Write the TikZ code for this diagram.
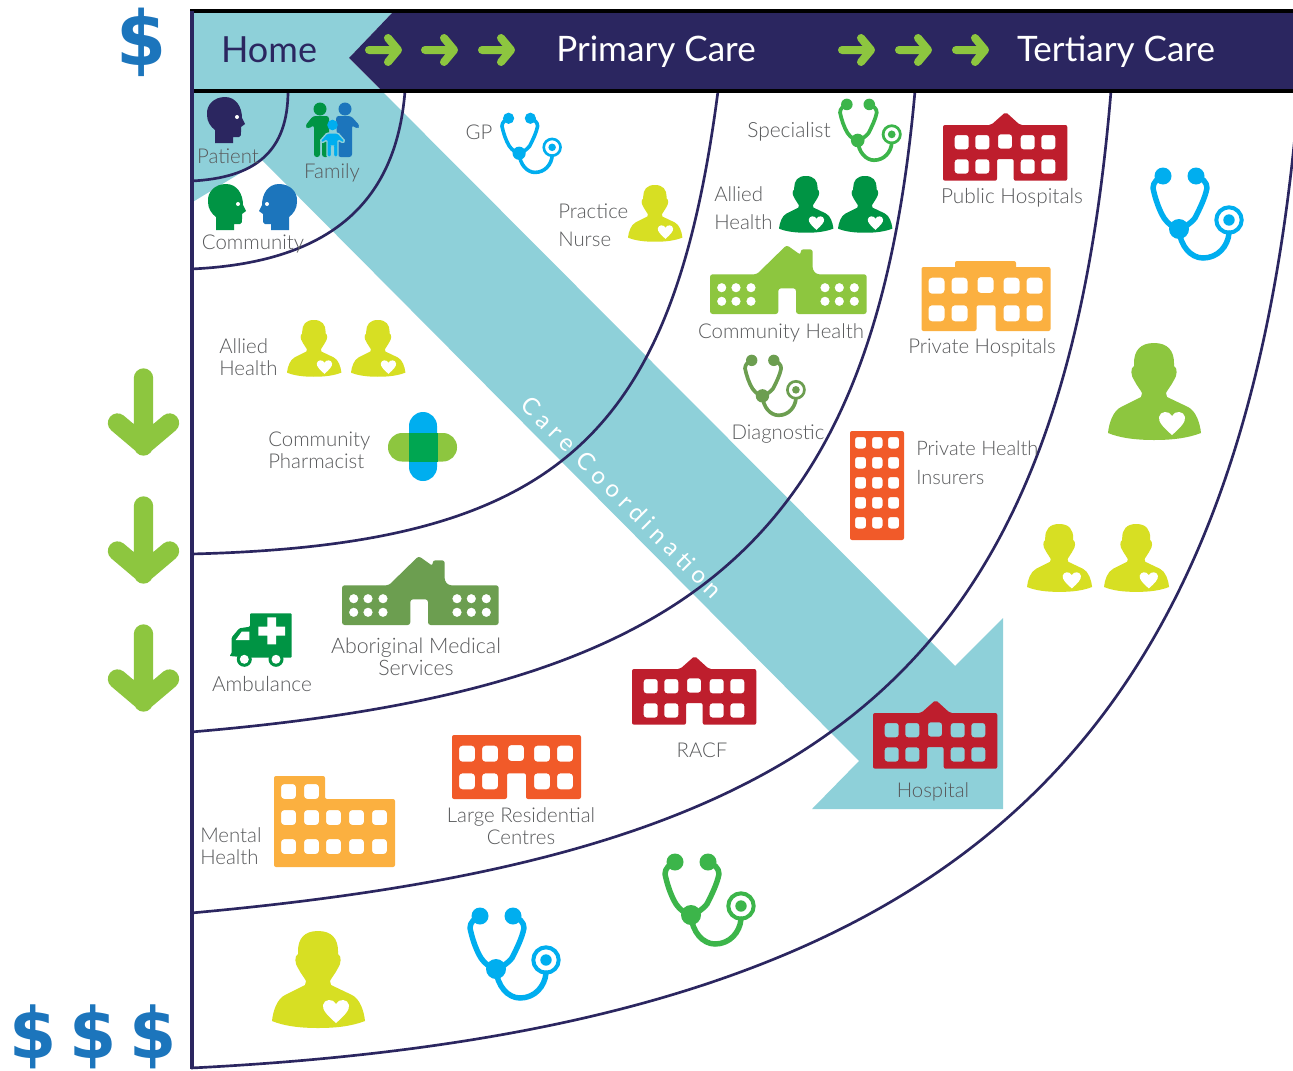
\documentclass[tikz,border=0pt]{standalone}
\usepackage{fontspec}
\usepackage{graphicx}
\setmainfont{Lato Light}
\newfontfamily\hdfont{Lato}
\newfontfamily\dollarfont{DejaVu Sans}[BoldFont=* Bold]
\newfontfamily\carefont[LetterSpace=24]{Lato}
\definecolor{navy}{HTML}{2B2660}
\definecolor{teal}{HTML}{8ED0D9}
\definecolor{lime}{HTML}{8DC63F}
\definecolor{yel}{HTML}{D7DF23}
\definecolor{dgreen}{HTML}{009444}
\definecolor{mgreen}{HTML}{3CB54A}
\definecolor{olive}{HTML}{6C9E50}
\definecolor{cyanb}{HTML}{00AEEF}
\definecolor{blueb}{HTML}{1C75BC}
\definecolor{redb}{HTML}{BE1E2D}
\definecolor{orangeb}{HTML}{FBB040}
\definecolor{orred}{HTML}{F15A29}
\definecolor{txt}{HTML}{58595B}
\definecolor{crossg}{HTML}{00A651}
\tikzset{
  arcline/.style={draw=navy,line width=2pt},
  lab/.style={text=txt,font=\fontsize{15.3}{16.5}\selectfont,inner sep=0pt,align=center},
  labl/.style={lab,align=left,anchor=west},
  hd/.style={inner sep=0pt,font=\hdfont\fontsize{26.3}{28}\selectfont},
  dollar/.style={inner sep=0pt,text=blueb,font=\dollarfont\bfseries\fontsize{54}{60}\selectfont},
  dollarb/.style={dollar,font=\dollarfont\bfseries\fontsize{51}{60}\selectfont},
  harrow/.style={draw=lime,line width=6pt,line cap=round,line join=round},
  varrow/.style={draw=lime,line width=14.5pt,line cap=round,line join=round}
}
\newcommand{\steth}[4]{%
\begin{scope}[shift={(#1,#2)},scale=#3]
 \draw[#4,line width=4.1pt*#3,line cap=round,line join=round]
   (13,8) .. controls (8,10) and (3,14) .. (3,20) .. controls (5,30) and (9,42) .. (14,50) .. controls (19,57) and (24,60) .. (29,61)
   .. controls (34,60) and (40,56) .. (45,50) .. controls (50,40) and (55,30) .. (57,20) .. controls (57,14) and (52,10) .. (46,8);
 \draw[#4,line width=4.1pt*#3,line cap=round]
   (29,61) .. controls (30,78) and (41,90) .. (53,90) .. controls (68,90) and (78,78) .. (79,65);
 \fill[#4] (13,8) circle[radius=8.5] (46,8) circle[radius=8.5] (29,61) circle[radius=10] (79,52) circle[radius=5.7];
 \draw[#4,line width=3pt*#3] (79,52) circle[radius=12.7];
\end{scope}}
\newcommand{\person}[4]{%
\begin{scope}[shift={(#1,#2)},scale=#3]
 \fill[#4] (46,0) .. controls (60,0) and (66,8) .. (66,20) -- (66,23) .. controls (70,25) and (69,33) .. (66,37)
   .. controls (63,43) and (60,46) .. (58,50) -- (59,54) -- (80,64) .. controls (88,68) and (92,80) .. (93,90)
   .. controls (80,95) and (65,97) .. (46,97) .. controls (28,97) and (12,95) .. (0,90)
   .. controls (1,80) and (5,68) .. (13,64) -- (33,54) -- (34,50) .. controls (32,46) and (29,43) .. (26,37)
   .. controls (23,33) and (22,25) .. (26,23) -- (26,20) .. controls (26,8) and (32,0) .. (46,0) -- cycle;
 \fill[white] (64,92) .. controls (56,85) and (50,79) .. (51,74) .. controls (52,68) and (61,67) .. (64,73)
   .. controls (67,67) and (76,68) .. (77,74) .. controls (78,79) and (72,85) .. (64,92) -- cycle;
\end{scope}}
\newcommand{\headicon}[3]{% x y colour; faces right
 \fill[#3] (19,0) .. controls (8,0) and (0,8) .. (1,18) .. controls (1,25) and (5,30) .. (9,33) -- (9,46) -- (27,46) -- (27,40)
   -- (33,40) .. controls (35,40) and (35,37) .. (35,35) -- (35,30) -- (39,27) -- (36,21) .. controls (36,10) and (30,0) .. (19,0) -- cycle;
 \fill[white] (31,20) circle[radius=2];}
\newcommand{\hosp}[3]{%
\begin{scope}[shift={(#1,#2)}]
 \fill[#3,even odd rule,rounded corners=1.5pt] (0,68.7) -- (0,13) -- (48,13) -- (62.7,0) -- (77,13) -- (124.3,13) -- (124.3,68.7)
   -- (70.7,68.7) -- (70.7,47) -- (54,47) -- (54,68.7) -- cycle
   [rounded corners=2pt] (11.7,23) rectangle ++(14,14.3) (32.3,23) rectangle ++(14,14.3) (55,22.3) rectangle ++(14,14.3)
   (77.7,23) rectangle ++(14,14.3) (98.3,23) rectangle ++(14,14.3)
   (11.7,47.3) rectangle ++(14,14.3) (32.3,47.3) rectangle ++(14,14.3) (77.7,47.3) rectangle ++(14,14.3) (98.3,47.3) rectangle ++(14,14.3);
\end{scope}}
\newcommand{\wide}[3]{%
\begin{scope}[shift={(#1,#2)}]
 \fill[#3,even odd rule,rounded corners=1.5pt] (0,70) -- (0,6) -- (129,6) -- (129,70) -- (74,70) -- (74,44.3) -- (55,44.3) -- (55,70) -- cycle
   [rounded corners=2.5pt] (7,16.7) rectangle ++(16,16) (30,16.7) rectangle ++(16,16) (56,16) rectangle ++(16,16)
   (82,16.7) rectangle ++(16,16) (105,16.7) rectangle ++(16,16)
   (7,44.3) rectangle ++(16,16) (30,44.3) rectangle ++(16,16) (82,44.3) rectangle ++(16,16) (105,44.3) rectangle ++(16,16);
\end{scope}}
\newcommand{\school}[3]{%
\begin{scope}[shift={(#1,#2)}]
 \fill[#3,even odd rule,rounded corners=2pt] (0,69) -- (0,29.3) -- (46.7,29.3) -- (76.7,0) -- (90.7,10) -- (90.7,4.3) -- (102.7,4.3) -- (102.7,25) -- (106.7,29.3)
   -- (156.7,29.3) -- (156.7,69) -- (86,69) -- (86,43.3) -- (68.3,43.3) -- (68.3,69) -- cycle
   (11.7,42.7) circle[radius=4.7] (26,42.7) circle[radius=4.7] (41,42.7) circle[radius=4.7]
   (115,42.7) circle[radius=4.7] (129.3,42.7) circle[radius=4.7] (144.3,42.7) circle[radius=4.7]
   (11.7,56.3) circle[radius=4.7] (26,56.3) circle[radius=4.7] (41,56.3) circle[radius=4.7]
   (115,56.3) circle[radius=4.7] (129.3,56.3) circle[radius=4.7] (144.3,56.3) circle[radius=4.7];
\end{scope}}
\newcommand{\harr}[1]{%
 \draw[harrow] (#1+4,50) -- (#1+33,50) (#1+23,38) -- (#1+33,50) -- (#1+23,62);}
\newcommand{\varr}[1]{%
 \draw[varrow] (143.5,#1+10) -- (143.5,#1+78) (117.5,#1+55) -- (143.5,#1+77) -- (169.5,#1+55);}
\begin{document}
\begin{tikzpicture}[x=0.75pt,y=-0.75pt]
\useasboundingbox (0,0) rectangle (1293,1071);
\fill[white] (0,0) rectangle (1293,1071);
% care coordination band
\fill[teal] (191,12) -- (393,12) -- (349,58) -- (955,666) -- (1003,618) -- (1003,809) -- (812,809) -- (859,761) -- (262,160) -- (191,203) -- cycle;
% header
\fill[navy] (393,12) -- (1293,12) -- (1293,90) -- (381,90) -- (349,58) -- cycle;
% curves
\draw[arcline] (191,181) .. controls (256,178) and (288,151) .. (288,91);
\draw[arcline] (191,269) .. controls (326,263) and (396,206) .. (405,91);
\draw[arcline] (191,554) .. controls (561,545) and (673,436) .. (718,91);
\draw[arcline] (191,732) .. controls (687,690) and (874,551) .. (915,91);
\draw[arcline] (191,913) .. controls (821,856) and (1062,681) .. (1111,91);
\begin{scope}
\clip (0,0) rectangle (1293,1071);
\draw[arcline] (191,1068) .. controls (950,1030) and (1245,760) .. (1299,91);
\end{scope}
% frame
\draw[black,line width=2.8pt] (190,11) -- (1293,11);
\draw[black,line width=3pt] (192,91.3) -- (1293,91.3);
\draw[navy,line width=3pt] (192,11) -- (192,1069);
% header arrows
\harr{365}\harr{421}\harr{478}\harr{838}\harr{895}\harr{952}
\varr{368}\varr{496}\varr{624}
% head icons
\begin{scope}[shift={(206,97)}]\headicon{0}{0}{navy}\end{scope}
\begin{scope}[shift={(207,184)}]\headicon{0}{0}{dgreen}\end{scope}
\begin{scope}[shift={(298,184)},xscale=-1]\headicon{0}{0}{blueb}\end{scope}
% family
\fill[blueb] (345,109) circle[radius=6.5];
\fill[blueb,rounded corners=2pt] (336,116) -- (351,116) -- (360,126) -- (357,129) -- (352,125) -- (352,157) -- (338,157) -- cycle;
\fill[dgreen] (320,109) circle[radius=6.5];
\fill[dgreen,rounded corners=2pt] (313,116) -- (329,116) -- (329,157) -- (322,157) -- (322,140) -- (320,140) -- (320,157) -- (314,157) -- (314,125) -- (308,129) -- (305,126) -- cycle;
\draw[teal,line width=1pt,fill=cyanb,rounded corners=1pt] (327,133) -- (338,133) -- (345,141) -- (343,143) -- (338,140) -- (338,157) -- (333.5,157) -- (333.5,146) -- (331.5,146) -- (331.5,157) -- (327,157) -- (327,140) -- (322,143) -- (320,141) -- cycle;
\fill[cyanb] (332.5,125) circle[radius=5.3];
% stethoscopes
\steth{500}{113}{0.66}{cyanb}
\steth{838}{99}{0.68}{mgreen}
\steth{743}{355}{0.67}{olive}
\steth{1150}{168}{1}{cyanb}
\steth{467}{908}{1}{cyanb}
\steth{662}{854}{1}{mgreen}
% persons
\person{1108}{343}{1}{lime}
\person{272}{931}{1}{yel}
\person{287}{320}{0.585}{yel}
\person{351}{320}{0.585}{yel}
\person{628}{185}{0.585}{yel}
\person{779}{176}{0.585}{dgreen}
\person{838}{176}{0.585}{dgreen}
\person{1027}{524}{0.7}{yel}
\person{1104}{524}{0.7}{yel}
% buildings
\hosp{943}{112}{redb}
\hosp{632}{656}{redb}
\hosp{873}{700}{redb}
\wide{921.5}{261}{orangeb}
\fill[orangeb,rounded corners=1.5pt] (955,261) rectangle (1016,270);
\wide{452}{729}{orred}
\school{710}{245}{lime}
\school{342}{556}{olive}
% mental health
\begin{scope}[shift={(274,776)}]
\fill[orangeb,even odd rule,rounded corners=1.5pt] (0,0) -- (51,0) -- (51,23) -- (121,23) -- (121,91) -- (0,91) -- cycle
 [rounded corners=2.5pt] (7,8) rectangle ++(15,15) (30,8) rectangle ++(15,15)
 (7,34) rectangle ++(15,15) (30,34) rectangle ++(15,15) (52,34) rectangle ++(15,15) (75,34) rectangle ++(15,15) (98,34) rectangle ++(15,15)
 (7,63) rectangle ++(15,15) (30,63) rectangle ++(15,15) (52,63) rectangle ++(15,15) (75,63) rectangle ++(15,15) (98,63) rectangle ++(15,15);
\end{scope}
% insurers
\begin{scope}[shift={(850,431)}]
\fill[orred,even odd rule,rounded corners=1.5pt] (0,0) rectangle (54,109)
 [rounded corners=2pt] (5,6) rectangle ++(11,11.5) (22,6) rectangle ++(10.5,11.5) (38,6) rectangle ++(11,11.5)
 (5,26) rectangle ++(11,11.5) (22,26) rectangle ++(10.5,11.5) (38,26) rectangle ++(11,11.5)
 (5,46) rectangle ++(11,11.5) (22,46) rectangle ++(10.5,11.5) (38,46) rectangle ++(11,11.5)
 (5,66) rectangle ++(11,11.5) (22,66) rectangle ++(10.5,11.5) (38,66) rectangle ++(11,11.5)
 (5,86) rectangle ++(11,11.5) (22,86) rectangle ++(10.5,11.5) (38,86) rectangle ++(11,11.5);
\end{scope}
% ambulance
\fill[dgreen,rounded corners=.8pt] (250,613.3) -- (291.7,613.3) -- (291.7,657.7) -- (250,657.7) -- (229.3,656) -- (231.7,653.3) -- (231.7,637.3) -- (239.3,628.3) -- (250,626.7) -- cycle;
\fill[white] (235.7,640) -- (241.7,631.7) -- (249.3,631.7) -- (249.3,640) -- cycle;
\fill[white] (258.3,626.7) rectangle (285,635.7) (267.3,617.3) rectangle (276,644.3);
\fill[dgreen] (244.3,659.3) circle[radius=7.5] (276,659.3) circle[radius=7.5];
\fill[white] (244.3,659.3) circle[radius=4.5] (276,659.3) circle[radius=4.5];
% pharmacist cross
\fill[lime,rounded corners=10.5pt] (388,433) rectangle (457,461.5);
\fill[cyanb,rounded corners=10.5pt] (409,412) rectangle (437,481);
\fill[crossg] (408.5,433) rectangle (437.5,461.5);
% header labels
\node[hd,text=navy,font=\hdfont\fontsize{27}{28}\selectfont] (home) at (269,50) {Home};
\node[hd,text=white] (primary) at (656,52) {Primary Care};
\node[hd,text=white] (tertiary) at (1116,52) {Tertiary Care};
% dollars
\node[dollar] (d1) at (142,42) {\scalebox{1}[1.05]{\$}};
\node[dollarb] (d2) at (33,1037) {\scalebox{1}[1.04]{\$}};
\node[dollarb] (d3) at (93,1037) {\scalebox{1}[1.04]{\$}};
\node[dollarb] (d4) at (153,1037) {\scalebox{1}[1.04]{\$}};
% labels
\node[lab] (patient) at (228,156) {Patient};
\node[lab] (family) at (332,173) {Family};
\node[lab] (community) at (253,244) {Community};
\node[lab] (gp) at (479,132) {GP};
\node[labl,font=\fontsize{15.3}{21}\selectfont] (nurse) at (558,225) {Practice\\Nurse};
\node[lab,font=\fontsize{15.7}{16.5}\selectfont] (specialist) at (789,132) {Specialist};
\node[labl,font=\fontsize{15.3}{21}\selectfont] (allied1) at (714,208) {Allied\\Health};
\node[lab,font=\fontsize{15.6}{16.5}\selectfont] (public) at (1012,198) {Public Hospitals};
\node[lab] (commh) at (781,333) {Community Health};
\node[lab] (private) at (982,348) {Private Hospitals};
\node[lab] (diag) at (778,434) {Diagnostic};
\node[labl,font=\fontsize{15}{21.5}\selectfont] (insurers) at (916,463) {Private Health\\Insurers};
\node[labl] (allied2) at (219,357) {Allied\\Health};
\node[labl] (pharm) at (268,450) {Community\\Pharmacist};
\node[lab,font=\fontsize{16}{16.5}\selectfont] (abor) at (416,657) {Aboriginal Medical\\Services};
\node[lab,font=\fontsize{15.6}{16.5}\selectfont] (amb) at (262,684) {Ambulance};
\node[lab] (racf) at (702,750) {RACF};
\node[lab] (hosp) at (933,792) {Hospital};
\node[lab] (lrc) at (521,826) {Large Residential\\Centres};
\node[labl] (mental) at (200,846) {Mental\\Health};
\node[inner sep=0pt,text=white,rotate=-45,font=\carefont\fontsize{18}{20}\selectfont] (care) at (622,497) {Care Coordination};
\end{tikzpicture}
\end{document}
